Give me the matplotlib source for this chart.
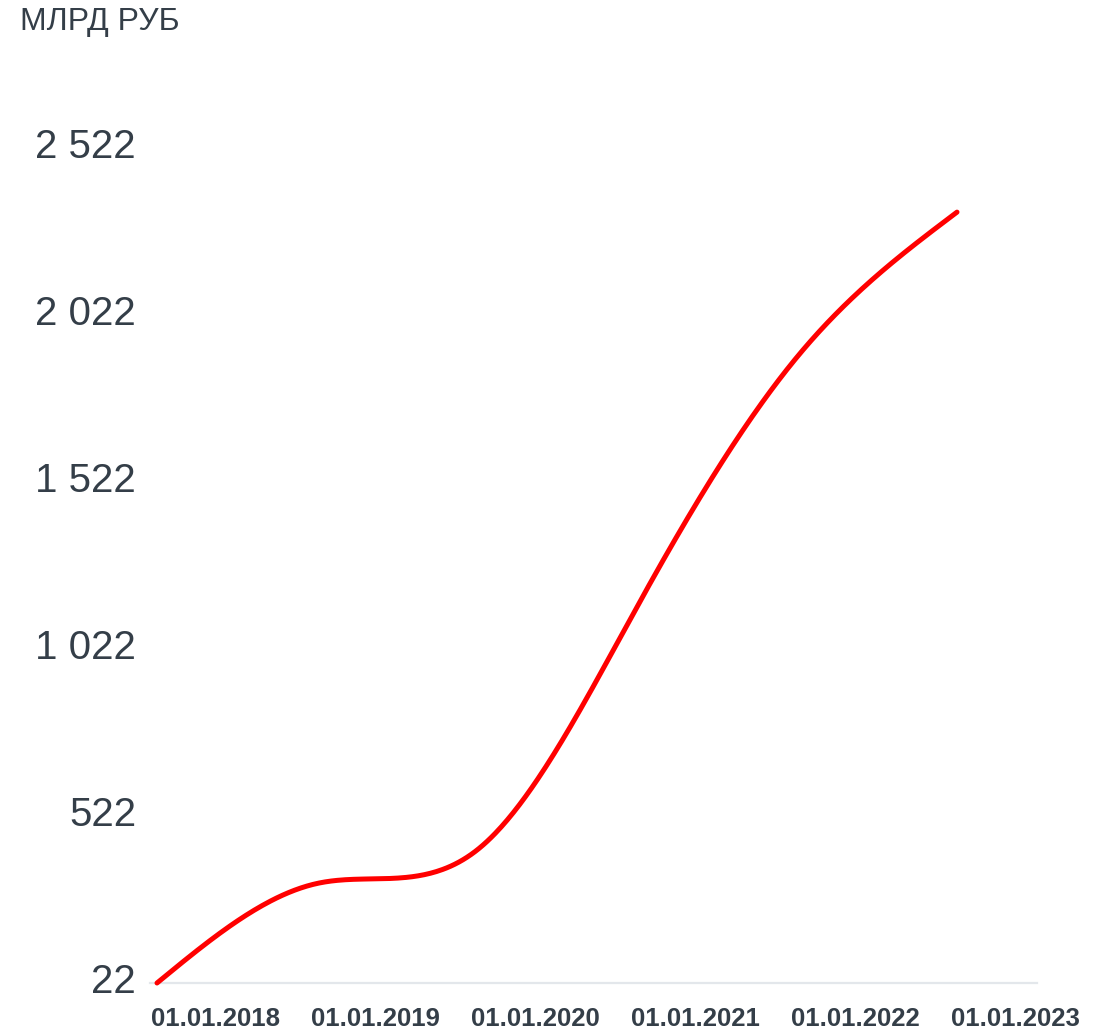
import numpy as np
import matplotlib
matplotlib.use('Agg')
import matplotlib.pyplot as plt
import matplotlib.transforms as mtransforms

# Data
years = [2018, 2019, 2020, 2021, 2022, 2023]
x_labels = ['01.01.2018', '01.01.2019', '01.01.2020', '01.01.2021', '01.01.2022', '01.01.2023']
values = [22, 320, 420, 1148, 1896, 2330]
y_ticks = [22, 522, 1022, 1522, 2022, 2522]
y_tick_labels = ['22', '522', '1 022', '1 522', '2 022', '2 522']
unit_label = 'МЛРД РУБ'

TEXT = '#343e48'
plt.rcParams['font.family'] = ['Liberation Sans', 'DejaVu Sans']


def natural_spline(x, y, n=80):
    """Natural cubic spline through the points, only used to draw the smooth line."""
    x = np.asarray(x, float)
    y = np.asarray(y, float)
    k = len(x)
    h = np.diff(x)
    A = np.zeros((k, k))
    b = np.zeros(k)
    A[0, 0] = A[-1, -1] = 1
    for i in range(1, k - 1):
        A[i, i - 1] = h[i - 1]
        A[i, i] = 2 * (h[i - 1] + h[i])
        A[i, i + 1] = h[i]
        b[i] = 6 * ((y[i + 1] - y[i]) / h[i] - (y[i] - y[i - 1]) / h[i - 1])
    M = np.linalg.solve(A, b)
    xs, ys = [], []
    for i in range(k - 1):
        t = np.linspace(x[i], x[i + 1], n)
        a = x[i + 1] - t
        c = t - x[i]
        yy = (M[i] * a**3 + M[i + 1] * c**3) / (6 * h[i]) \
            + (y[i] / h[i] - M[i] * h[i] / 6) * a \
            + (y[i + 1] / h[i] - M[i + 1] * h[i] / 6) * c
        xs.append(t)
        ys.append(yy)
    return np.concatenate(xs), np.concatenate(ys)


fig = plt.figure(figsize=(11.11, 10.33), dpi=100)
ax = fig.add_axes([150 / 1111, 50 / 1033, 887 / 1111, 835 / 1033])

cx, cy = natural_spline(years, values)
ax.plot(cx, cy, color='#ff0000', linewidth=3.6, solid_capstyle='round', clip_on=False, zorder=3)

ax.set_xlim(2018 - 7 / 160, 2023 + 80 / 160)
ax.set_ylim(22, 2522)

for side in ['top', 'right', 'left']:
    ax.spines[side].set_visible(False)
ax.spines['bottom'].set_color('#e3e7eb')
ax.spines['bottom'].set_linewidth(1.6)

ax.set_yticks(y_ticks)
ax.set_yticklabels(y_tick_labels, fontsize=29, color=TEXT)
ax.tick_params(axis='y', length=0, pad=10)
for lab in ax.get_yticklabels():
    lab.set_verticalalignment('center')
    lab.set_transform(lab.get_transform() + mtransforms.ScaledTranslation(0, 1 / 100, fig.dpi_scale_trans))

ax.set_xticks(years)
ax.set_xticklabels(x_labels, fontsize=18.5, fontweight='bold', color=TEXT)
ax.tick_params(axis='x', length=0, pad=17)
for lab in ax.get_xticklabels():
    lab.set_horizontalalignment('left')
    lab.set_transform(lab.get_transform() + mtransforms.ScaledTranslation(-6 / 100, 0, fig.dpi_scale_trans))

fig.text(20 / 1111, 1 - 22 / 1033, unit_label, fontsize=23, color=TEXT, ha='left', va='center')

plt.savefig('out.png', dpi=100)
plt.close(fig)
